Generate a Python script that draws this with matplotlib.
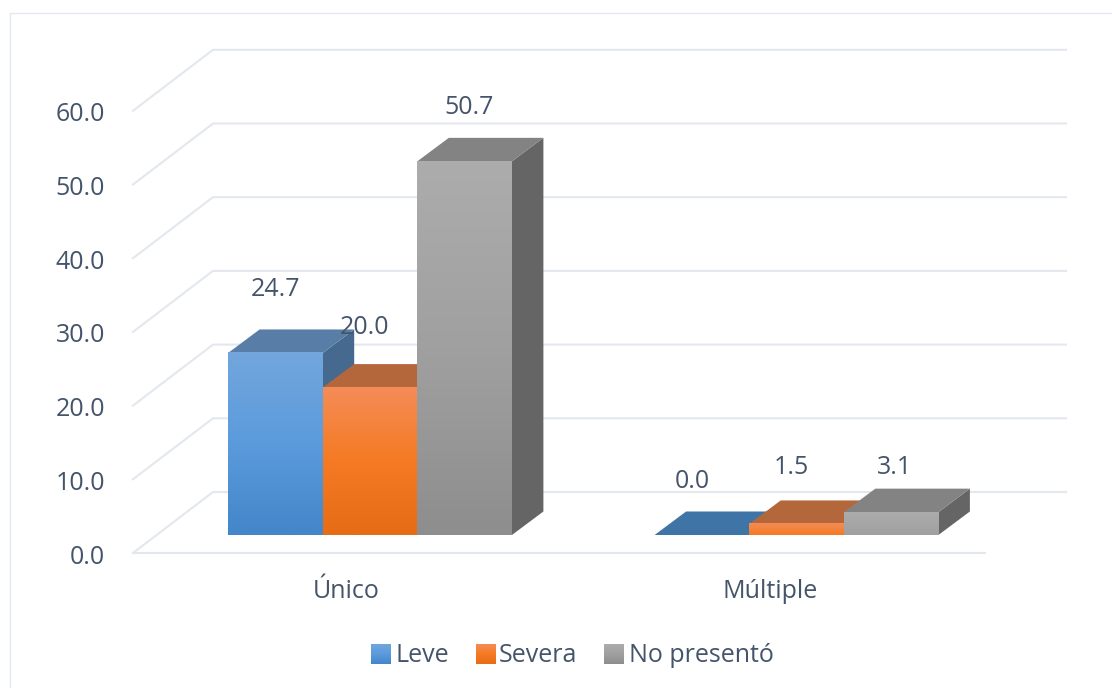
import matplotlib
matplotlib.use("Agg")
import matplotlib.pyplot as plt
import numpy as np
from matplotlib.colors import LinearSegmentedColormap
from matplotlib.patches import Polygon

plt.rcParams['font.family'] = ['Open Sans', 'DejaVu Sans']

categories = ["Único", "Múltiple"]
series_names = ["Leve", "Severa", "No presentó"]
leve = [24.7, 0.0]
severa = [20.0, 1.5]
no_presento = [50.7, 3.1]
y_ticks = [0, 10, 20, 30, 40, 50, 60]

# Colores: frente (arriba, medio, abajo), tapa, costado
FRONT = [["#72A6DD", "#5B9BDC", "#4386C9"], ["#F48C57", "#F57A23", "#E66C15"],
         ["#ACACAC", "#A0A0A0", "#8E8E8E"]]
TOP = ["#587EA8", "#B5673C", "#838383"]
TOP_ZERO = "#3F74A6"
SIDE = ["#46698F", "#B0603A", "#656565"]
GRID = "#E3E7EE"
TEXT = "#44546A"
FS = 18

# Escala de la figura
W, H = 1112, 688
CAT_PX = 426.5  # pixeles entre categorias
VAL_PX = 7.37  # pixeles por unidad
X0_PX, Y0_PX = 370, 535  # centro de la primera categoria, base de las barras


def px_x(p):
    return (p - X0_PX) / CAT_PX


def px_y(p):
    return (Y0_PX - p) / VAL_PX


BAR_W = 94.6 / CAT_PX
DX = 31.5 / CAT_PX  # profundidad de la barra
DY = 23.5 / VAL_PX

fig = plt.figure(figsize=(W / 100, H / 100), dpi=100)
ax = fig.add_axes([0, 0, 1, 1])


def gradient(x0, x1, y0, y1, colors, zorder):
    cmap = LinearSegmentedColormap.from_list("g", colors)
    ax.imshow(np.linspace(0, 1, 64).reshape(-1, 1), cmap=cmap, aspect="auto",
              extent=[x0, x1, y0, y1], origin="upper", zorder=zorder,
              interpolation="bilinear")


# Paredes y lineas de la cuadricula
xf, xb, xr = px_x(133), px_x(213), px_x(1066)
yf, yb = px_y(553), px_y(492)
for v in y_ticks:
    ax.plot([xf, xb, xr], [yf + v, yb + v, yb + v], color=GRID, lw=1.5, zorder=1,
            solid_joinstyle="miter")
    ax.text(px_x(105), yf + v - 4 / VAL_PX, f"{v:.1f}", ha="right", va="center",
            fontsize=FS, color=TEXT)
ax.plot([xf, px_x(985)], [yf, yf], color=GRID, lw=1.5, zorder=1)

# Marco exterior
ax.plot([px_x(9.5), px_x(9.5), px_x(W)], [px_y(H), px_y(13), px_y(13)], color=GRID,
        lw=1, zorder=1)

# Barras
values = [leve, severa, no_presento]
label_offsets = [[(0, 63), (-10, 54)], [(-6, 60), (-5, 56)], [(4, 54), (3, 45)]]
z = 2
for c in range(len(categories)):
    for s, vals in enumerate(values):
        v = vals[c]
        x0 = c + (s - 1.5) * BAR_W
        x1 = x0 + BAR_W
        ax.add_patch(Polygon([(x1, 0), (x1 + DX, DY), (x1 + DX, v + DY), (x1, v)],
                             color=SIDE[s], lw=0, zorder=z))
        top = TOP[s] if v > 0 else TOP_ZERO
        ax.add_patch(Polygon([(x0, v), (x0 + DX, v + DY), (x1 + DX, v + DY), (x1, v)],
                             color=top, lw=0, zorder=z))
        if v > 0:
            # las barras bajas casi no muestran degradado
            colors = FRONT[s] if v > 5 else FRONT[s][:2]
            gradient(x0, x1, 0, v, colors, z + 0.5)
        ox, oy = label_offsets[s][c]
        ax.annotate(f"{v:.1f}", (x0 + BAR_W / 2, v), xytext=(ox, oy),
                    textcoords="offset pixels", ha="center", va="center",
                    fontsize=FS, color=TEXT, zorder=20)
        z += 1

# Etiquetas de categoria
label_x = [346, 770]
for c, name in enumerate(categories):
    ax.text(px_x(label_x[c]), px_y(592), name, ha="center", va="center", fontsize=FS,
            color=TEXT)

# Leyenda
legend_px = [(371, 395), (476, 499), (604, 629)]
for s, name in enumerate(series_names):
    sq, tx = legend_px[s]
    gradient(px_x(sq), px_x(sq + 20), px_y(664), px_y(644), FRONT[s], 3)
    ax.text(px_x(tx), px_y(655), name, ha="left", va="center", fontsize=FS, color=TEXT)

ax.set_xlim(px_x(0), px_x(W))
ax.set_ylim(px_y(H), px_y(0))
ax.axis("off")
fig.savefig("out.png", dpi=100)
